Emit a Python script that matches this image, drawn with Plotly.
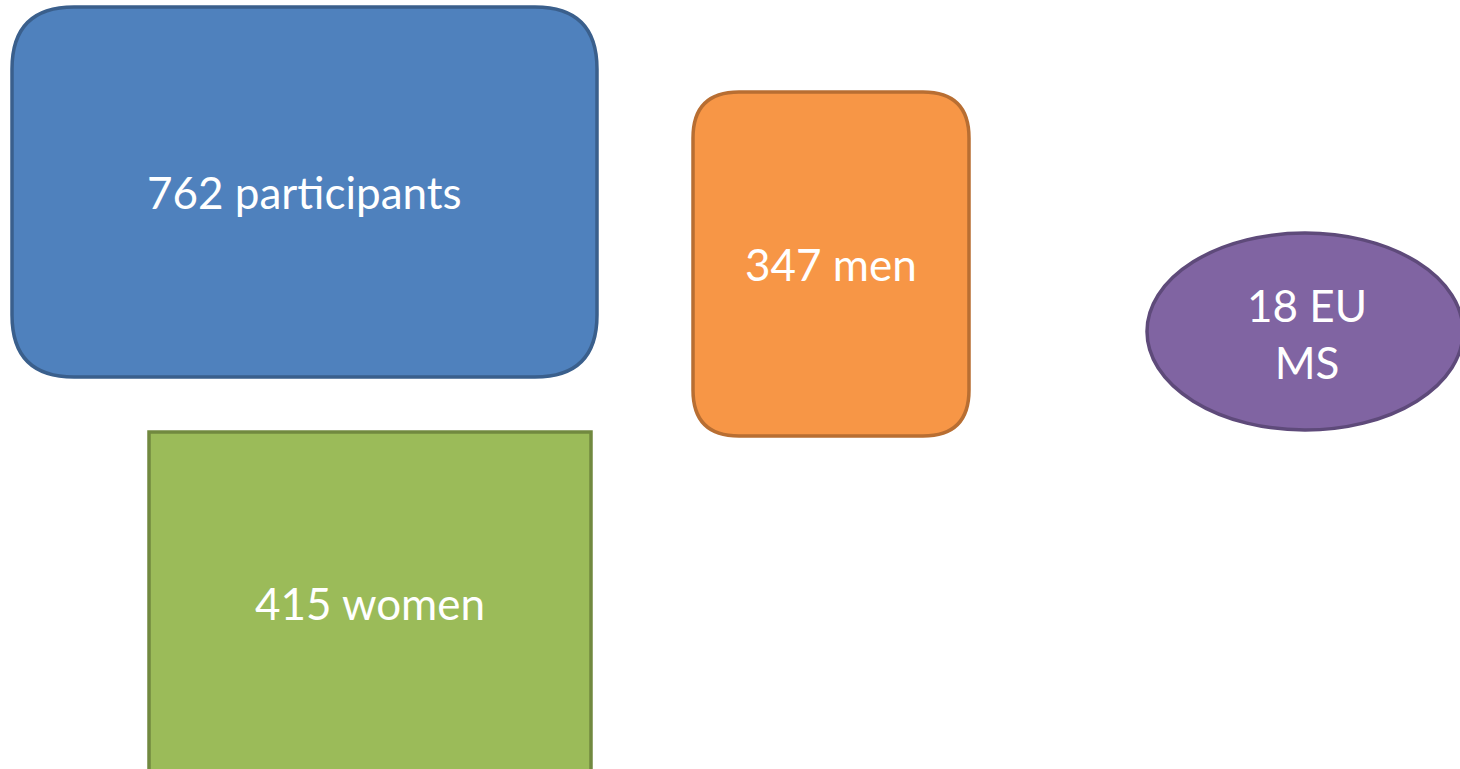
import plotly.graph_objects as go

# Data
counts = [762, 347, 18, 415]
units = ["participants", "men", "EU<br>MS", "women"]

# Layout / style (pixel geometry of the boxes)
kinds = ["round", "round", "ellipse", "rect"]
boxes = [(12, 7, 597, 377), (693, 92, 969, 436), (1147, 233, 1463, 430), (149, 432, 591, 775)]
radii = [62, 46, 0, 0]
fills = ["#4F81BD", "#F79646", "#8064A2", "#9BBB59"]
lines = ["#3A5F8C", "#B86E32", "#5E4A7A", "#71893F"]
text_y_offset = [0, 0, 2, 0]

W, H = 1460, 769


def round_rect(x0, y0, x1, y1, r):
    return (f"M {x0+r},{y0} L {x1-r},{y0} Q {x1},{y0} {x1},{y0+r} "
            f"L {x1},{y1-r} Q {x1},{y1} {x1-r},{y1} L {x0+r},{y1} "
            f"Q {x0},{y1} {x0},{y1-r} L {x0},{y0+r} Q {x0},{y0} {x0+r},{y0} Z")


shapes = []
annotations = []
for c, u, k, b, r, f, l, dy in zip(counts, units, kinds, boxes, radii, fills, lines, text_y_offset):
    x0, y0, x1, y1 = b
    if k == "round":
        shapes.append(dict(type="path", path=round_rect(x0, y0, x1, y1, r), xref="x", yref="y",
                           fillcolor=f, line=dict(color=l, width=3.5), layer="above"))
    elif k == "ellipse":
        shapes.append(dict(type="circle", x0=x0, y0=y0, x1=x1, y1=y1, xref="x", yref="y",
                           fillcolor=f, line=dict(color=l, width=3.5), layer="above"))
    else:
        shapes.append(dict(type="rect", x0=x0, y0=y0, x1=x1, y1=y1, xref="x", yref="y",
                           fillcolor=f, line=dict(color=l, width=3.5), layer="above"))
    cy = (y0 + min(y1, H)) / 2 if k != "rect" else 603
    annotations.append(dict(x=(x0 + x1) / 2 if k != "ellipse" else 1307, y=cy + dy, xref="x", yref="y",
                            text=f"{c} {u}", showarrow=False,
                            font=dict(family="Lato, Open Sans, sans-serif", size=44, color="white")))

fig = go.Figure()
fig.add_trace(go.Scatter(x=[0, W], y=[0, H], mode="markers", marker=dict(opacity=0), hoverinfo="skip", showlegend=False))
fig.update_layout(
    width=W, height=H, margin=dict(l=0, r=0, t=0, b=0),
    paper_bgcolor="white", plot_bgcolor="white",
    xaxis=dict(range=[0, W], visible=False, fixedrange=True),
    yaxis=dict(range=[H, 0], visible=False, fixedrange=True),
    shapes=shapes, annotations=annotations,
)
fig.write_html("out.html", config={"displayModeBar": False},
               post_script="document.body.style.margin='0';document.body.style.overflow='hidden';")
